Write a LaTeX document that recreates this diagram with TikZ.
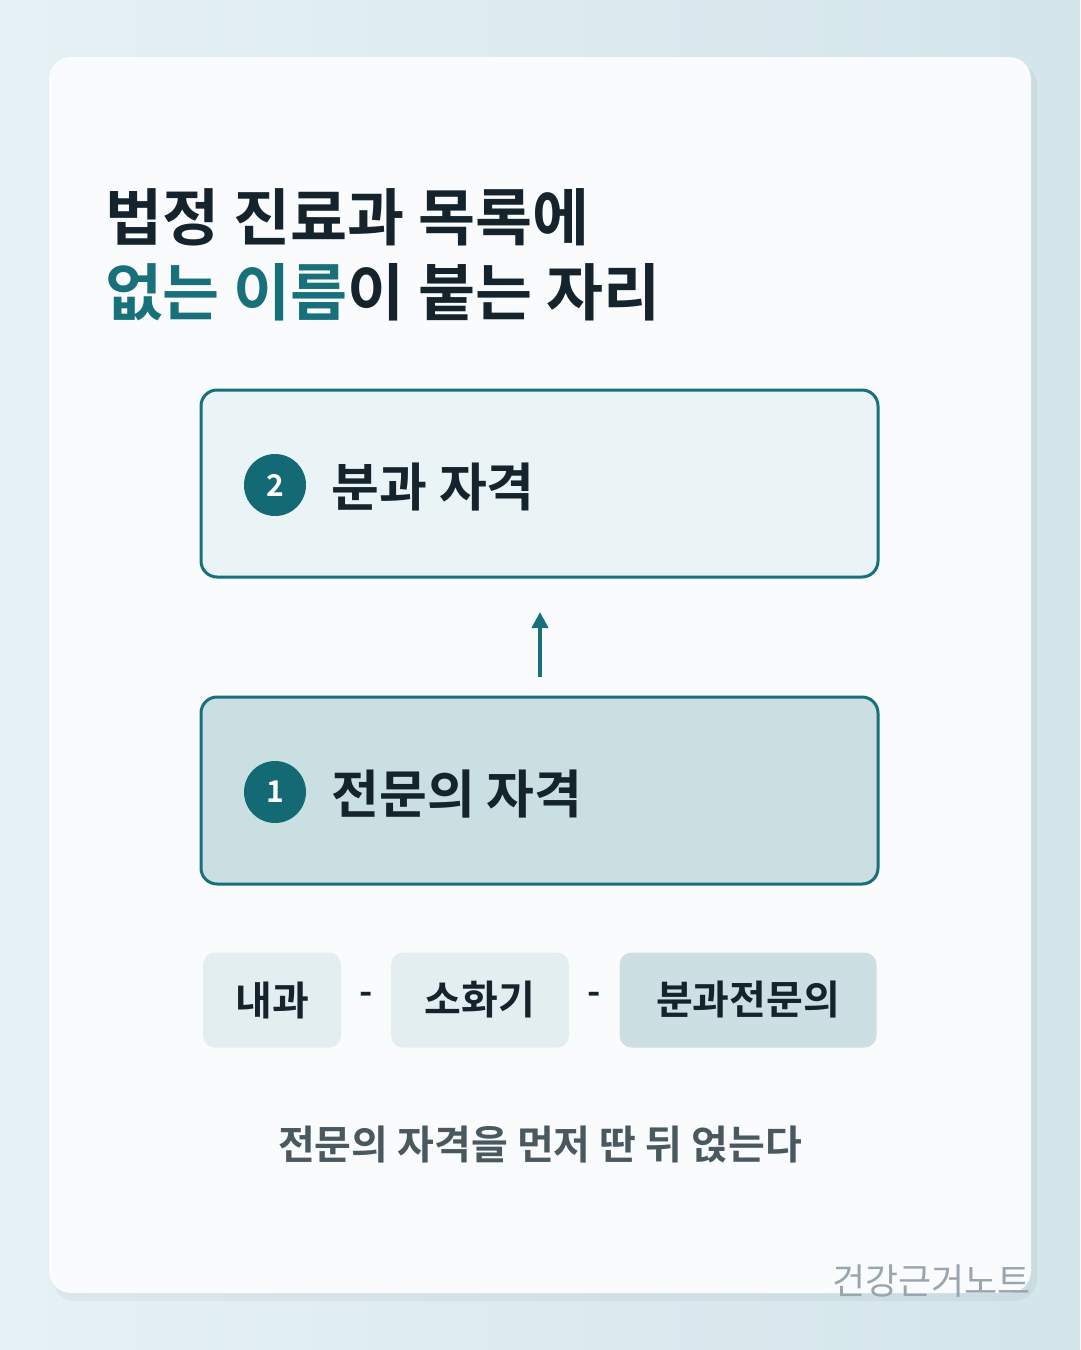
\documentclass[tikz,border=0pt]{standalone}
\usepackage{fontspec}
\usetikzlibrary{arrows.meta}
\newfontfamily\kb{Noto Sans CJK KR Bold}
\newfontfamily\kr{Noto Sans CJK KR}
\definecolor{bgA}{HTML}{E6F1F5}
\definecolor{bgB}{HTML}{D3E5EB}
\definecolor{card}{HTML}{F9FBFC}
\definecolor{ink}{HTML}{15232D}
\definecolor{teal}{HTML}{17707A}
\definecolor{tealD}{HTML}{136A75}
\definecolor{boxA}{HTML}{EAF3F5}
\definecolor{boxB}{HTML}{CADFE2}
\definecolor{pill}{HTML}{E3EEF0}
\definecolor{pillB}{HTML}{CCDFE2}
\definecolor{sub}{HTML}{4A5860}
\definecolor{wm}{HTML}{9AA6AD}
\begin{document}
\begin{tikzpicture}[x=1pt,y=-1pt,
  box/.style={draw=teal,line width=3pt,rounded corners=16pt},
  num/.style={circle,fill=tealD,minimum size=62pt,inner sep=0,text=white,font=\kb\fontsize{30}{30}\selectfont},
  lbl/.style={anchor=west,text=ink,font=\kb\fontsize{52}{60}\selectfont},
  pill/.style={rounded corners=12pt,text=ink,font=\kb\fontsize{40}{48}\selectfont,minimum height=95pt},
  sepmark/.style={text=ink,font=\kb\fontsize{36}{40}\selectfont}]
\useasboundingbox (0,0) rectangle (1080,1350);
\shade[left color=bgA,right color=bgB] (0,0) rectangle (1080,1350);
\fill[black,opacity=0.04,rounded corners=22pt] (53,63) rectangle (1037,1301);
\fill[card,rounded corners=22pt] (49,57) rectangle (1031,1293);
\node[anchor=base west,text=ink,font=\kb\fontsize{62}{70}\selectfont,inner sep=0] (t1) at (105,240) {법정 진료과 목록에};
\node[anchor=base west,text=ink,font=\kb\fontsize{62}{70}\selectfont,inner sep=0] (t2) at (105,315) {\textcolor{teal}{없는 이름}이 붙는 자리};
\draw[box,fill=boxA] (201,390) rectangle (878,577);
\node[num] (n2) at (275,485) {2};
\node[lbl] (l2) at (328,487) {분과 자격};
\draw[box,fill=boxB] (201,697) rectangle (878,884);
\node[num] (n1) at (275,792) {1};
\node[lbl] (l1) at (328,794) {전문의 자격};
\coordinate (a0) at (540,677);
\coordinate (a1) at (540,612);
\draw[teal,line width=4pt,-{Triangle[length=16pt,width=16pt]}] (a0) -- (a1);
\node[pill,fill=pill,minimum width=138pt] (p1) at (272,1000) {내과};
\node[sepmark] (d1) at (366,998) {-};
\node[pill,fill=pill,minimum width=178pt] (p2) at (480,1000) {소화기};
\node[sepmark] (d2) at (594,998) {-};
\node[pill,fill=pillB,minimum width=257pt] (p3) at (748,1000) {분과전문의};
\node[text=sub,font=\kb\fontsize{40}{48}\selectfont] (s) at (540,1145) {전문의 자격을 먼저 딴 뒤 얹는다};
\node[anchor=east,text=wm,font=\kr\fontsize{36}{40}\selectfont,inner sep=0] (w) at (1031,1281) {건강근거노트};
\end{tikzpicture}
\end{document}
